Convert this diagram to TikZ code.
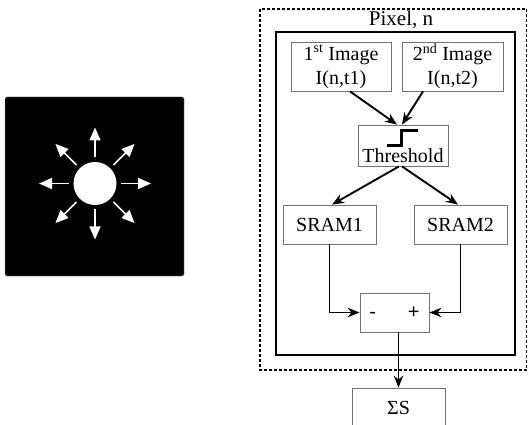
\documentclass[tikz,border=0pt]{standalone}
\usepackage{fontspec}
\setmainfont{Liberation Serif}
\setsansfont{Liberation Sans}
\usetikzlibrary{arrows.meta}
\begin{document}
\begin{tikzpicture}[x=1pt,y=-1pt,
  box/.style={draw=black!55,line width=0.8pt,fill=white,inner sep=0pt,align=center,
    font=\fontsize{20}{24}\selectfont},
  arr/.style={draw=black,line width=1.9pt,-{Stealth[length=12pt,width=9.5pt]}},
  warr/.style={draw=white,line width=1.6pt,-{Triangle[length=13pt,width=11pt]}}]
\useasboundingbox (0,0) rectangle (528,425);
% left scene
\draw[fill=black,draw=black!45,rounded corners=2pt] (5,97) rectangle (184,276);
\fill[white] (95,183.5) circle (21.5);
\foreach \a in {0,45,...,315}
  \draw[warr] (95,183.5) ++(\a:26) -- ++(\a:30);
% outer dashed frame
\draw[line width=1.6pt,dash pattern=on 3pt off 2pt] (260,9) rectangle (526.5,370);
\node[font=\fontsize{21}{24}\selectfont] (pix) at (401,20) {Pixel, n};
\draw[line width=2.2pt] (276,32) rectangle (515,355);
% boxes
\node[box,minimum width=100pt,minimum height=49pt] (im1) at (341,66.5)
  {1\textsuperscript{st} Image\\I(n,t1)};
\node[box,minimum width=101pt,minimum height=49pt] (im2) at (452.5,66.5)
  {2\textsuperscript{nd} Image\\I(n,t2)};
\node[box,minimum width=90pt,minimum height=41pt] (thr) at (403,145.5) {};
\node[font=\fontsize{20}{24}\selectfont] (thrt) at (403,155.5) {Threshold};
\draw[line width=3pt] (386.7,145.7) -- (401.7,145.7) -- (401.7,131) -- (418.3,131);
\node[box,minimum width=93pt,minimum height=39pt] (s1) at (329.5,224.5) {SRAM1};
\node[box,minimum width=93pt,minimum height=39pt] (s2) at (460.5,224.5) {SRAM2};
\node[box,minimum width=69pt,minimum height=39pt,font=\sffamily\fontsize{20}{24}\selectfont] (diff) at (394.5,312.5)
  {-\hspace{32pt}+};
\begin{scope}
\clip (0,0) rectangle (528,425);
\node[box,minimum width=93pt,minimum height=40pt] (sig) at (398.5,408) {ΣS};
\end{scope}
% connectors
\draw[arr] ([xshift=9pt]im1.south) -- ([xshift=-6pt]thr.north);
\draw[arr] ([xshift=-29.5pt]im2.south) -- ([xshift=-1pt]thr.north);
\draw[arr] ([xshift=-4pt]thr.south) -- ([xshift=2.5pt]s1.north);
\draw[arr] ([xshift=-1pt]thr.south) -- ([xshift=-2.5pt]s2.north);
\draw[arr] (s1.south) |- (diff.west);
\draw[arr] (s2.south) |- (diff.east);
\draw[arr] (diff.south -| sig.north) -- (sig.north);
\end{tikzpicture}
\end{document}
